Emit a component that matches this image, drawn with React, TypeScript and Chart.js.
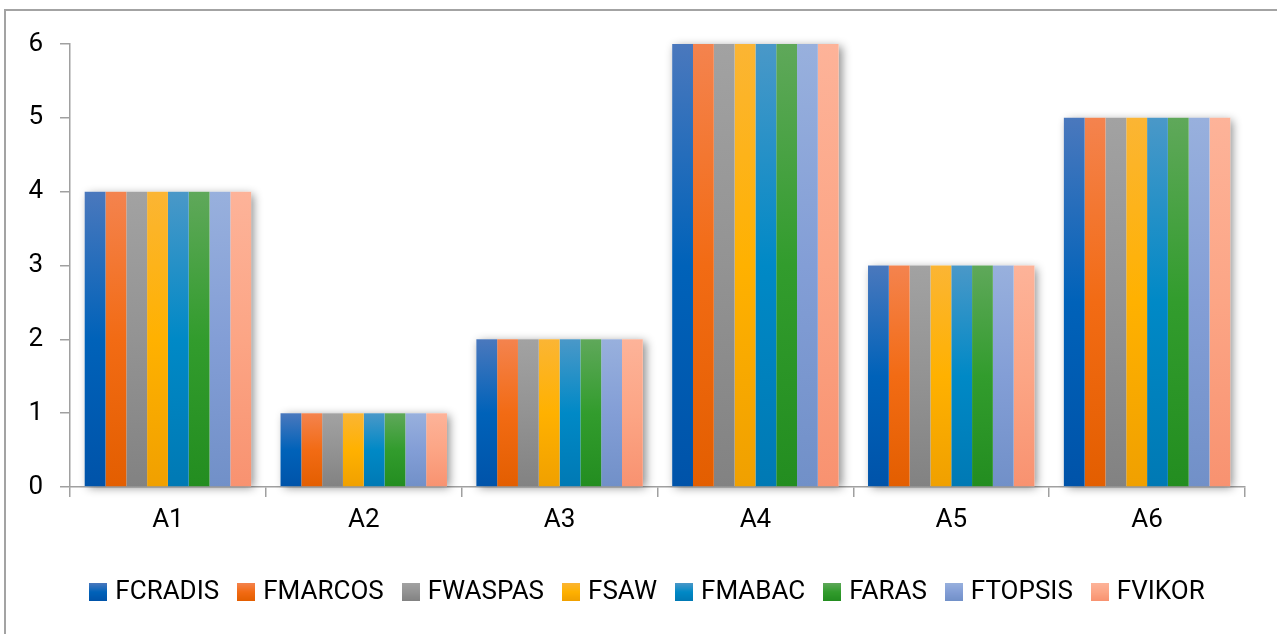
import React, { useEffect, useRef } from 'react';
import { Chart, registerables } from 'chart.js';

Chart.register(...registerables);

const categories = ['A1', 'A2', 'A3', 'A4', 'A5', 'A6'];
const seriesNames = ['FCRADIS', 'FMARCOS', 'FWASPAS', 'FSAW', 'FMABAC', 'FARAS', 'FTOPSIS', 'FVIKOR'];
const FCRADIS = [4, 1, 2, 6, 3, 5];
const FMARCOS = [4, 1, 2, 6, 3, 5];
const FWASPAS = [4, 1, 2, 6, 3, 5];
const FSAW = [4, 1, 2, 6, 3, 5];
const FMABAC = [4, 1, 2, 6, 3, 5];
const FARAS = [4, 1, 2, 6, 3, 5];
const FTOPSIS = [4, 1, 2, 6, 3, 5];
const FVIKOR = [4, 1, 2, 6, 3, 5];
const seriesValues = [FCRADIS, FMARCOS, FWASPAS, FSAW, FMABAC, FARAS, FTOPSIS, FVIKOR];
const yMin = 0;
const yMax = 6;
const yStep = 1;

// [top, middle, bottom] gradient colours per series
const palette: string[][] = [
  ['#4a78bd', '#0062b9', '#0053a9'],
  ['#f4834e', '#f26b14', '#e35e00'],
  ['#a2a2a2', '#939393', '#828282'],
  ['#fbb534', '#ffb100', '#f0a000'],
  ['#4a98c8', '#0089c6', '#0079b4'],
  ['#5fa85a', '#329c2d', '#238d20'],
  ['#98b0dd', '#839ed6', '#7190c8'],
  ['#fdb399', '#fca585', '#f89270'],
];

function makeIcon(cols: string[]): HTMLCanvasElement {
  const c = document.createElement('canvas');
  c.width = 18;
  c.height = 18;
  const g = c.getContext('2d')!;
  const gr = g.createLinearGradient(0, 0, 0, 18);
  gr.addColorStop(0, cols[0]);
  gr.addColorStop(0.5, cols[1]);
  gr.addColorStop(1, cols[2]);
  g.fillStyle = gr;
  g.fillRect(0, 0, 18, 18);
  return c;
}

const groupShadow = {
  id: 'groupShadow',
  beforeDatasetsDraw(chart: any) {
    const metas = chart.getSortedVisibleDatasetMetas();
    if (!metas.length) return;
    const c = chart.ctx;
    c.save();
    c.shadowColor = 'rgba(0,0,0,0.45)';
    c.shadowBlur = 9;
    c.shadowOffsetX = 3;
    c.shadowOffsetY = 2;
    c.fillStyle = '#ffffff';
    categories.forEach((_, i) => {
      const first = metas[0].data[i];
      const last = metas[metas.length - 1].data[i];
      if (!first || !last) return;
      const left = Math.min(first.x - first.width / 2, last.x - last.width / 2);
      const right = Math.max(first.x + first.width / 2, last.x + last.width / 2);
      const top = Math.min(...metas.map((m: any) => m.data[i].y));
      const base = first.base;
      c.fillRect(left, top, right - left, base - top);
    });
    c.restore();
  },
};

// shift the legend's centring box so that it is centred like the reference
const legendShift = {
  id: 'legendShift',
  afterLayout(chart: any) {
    if (chart.legend) {
      chart.legend.left = 54;
    }
  },
};

export default function App() {
  const ref = useRef<HTMLCanvasElement | null>(null);

  useEffect(() => {
    if (!ref.current) return;
    const icons = palette.map(makeIcon);
    const axisColor = '#a0a0a0';
    const chart = new Chart(ref.current, {
      type: 'bar',
      data: {
        labels: categories,
        datasets: seriesNames.map((name, i) => ({
          label: name,
          data: seriesValues[i],
          borderWidth: 0,
          categoryPercentage: 0.85,
          barPercentage: 1,
          backgroundColor: (ctx: any) => {
            const cols = palette[i];
            if (ctx.type !== 'data') return cols[1];
            const ch = ctx.chart;
            const ys = ch.scales && ch.scales.y;
            if (!ys || !ch.chartArea) return cols[1];
            const top = ys.getPixelForValue(ctx.parsed.y);
            const bottom = ys.getPixelForValue(0);
            if (!isFinite(top) || !isFinite(bottom) || top === bottom) return cols[1];
            const g = ch.ctx.createLinearGradient(0, top, 0, bottom);
            g.addColorStop(0, cols[0]);
            g.addColorStop(0.5, cols[1]);
            g.addColorStop(1, cols[2]);
            return g;
          },
        })),
      },
      options: {
        responsive: false,
        animation: false,
        devicePixelRatio: 1,
        layout: { padding: { left: 0, right: 32, top: 44, bottom: 19 } },
        font: { family: 'Roboto', size: 26 },
        scales: {
          x: {
            offset: true,
            grid: {
              offset: true,
              drawOnChartArea: false,
              drawTicks: true,
              tickLength: 10,
              color: axisColor,
              lineWidth: 1.5,
            },
            border: { display: true, color: axisColor, width: 1.5 },
            ticks: { color: '#000', font: { family: 'Roboto', size: 26 }, padding: 8 },
            afterFit: (s: any) => {
              s.height = 69;
            },
          },
          y: {
            min: yMin,
            max: yMax,
            grid: {
              drawOnChartArea: false,
              drawTicks: true,
              tickLength: 10,
              color: axisColor,
              lineWidth: 1.5,
            },
            border: { display: true, color: axisColor, width: 1.5 },
            ticks: { stepSize: yStep, color: '#000', font: { family: 'Roboto', size: 26 }, padding: 17 },
            afterFit: (s: any) => {
              s.width = 70;
            },
          },
        },
        plugins: {
          tooltip: { enabled: false },
          legend: {
            position: 'bottom',
            labels: {
              color: '#000',
              font: { family: 'Roboto', size: 26 },
              usePointStyle: true,
              pointStyleWidth: 8,
              boxWidth: 18,
              boxHeight: 18,
              padding: 23,
              generateLabels: () =>
                seriesNames.map((name, i) => ({
                  text: name,
                  fillStyle: palette[i][1],
                  strokeStyle: 'rgba(0,0,0,0)',
                  lineWidth: 0,
                  pointStyle: icons[i],
                  hidden: false,
                  datasetIndex: i,
                  fontColor: '#000',
                })),
            },
          },
        },
      },
      plugins: [groupShadow, legendShift],
    } as any);
    return () => chart.destroy();
  }, []);

  return (
    <div style={{ position: 'fixed', left: 0, top: 0, width: 1277, height: 634, overflow: 'hidden', background: '#fff' }}>
      <div
        style={{
          position: 'absolute',
          left: 4,
          top: 9,
          width: 1400,
          height: 800,
          borderTop: '2px solid #a3a3a3',
          borderLeft: '2px solid #a3a3a3',
        }}
      />
      <canvas
        ref={ref}
        width={1277}
        height={634}
        style={{ position: 'absolute', left: 0, top: 0, width: 1277, height: 634 }}
      />
    </div>
  );
}
